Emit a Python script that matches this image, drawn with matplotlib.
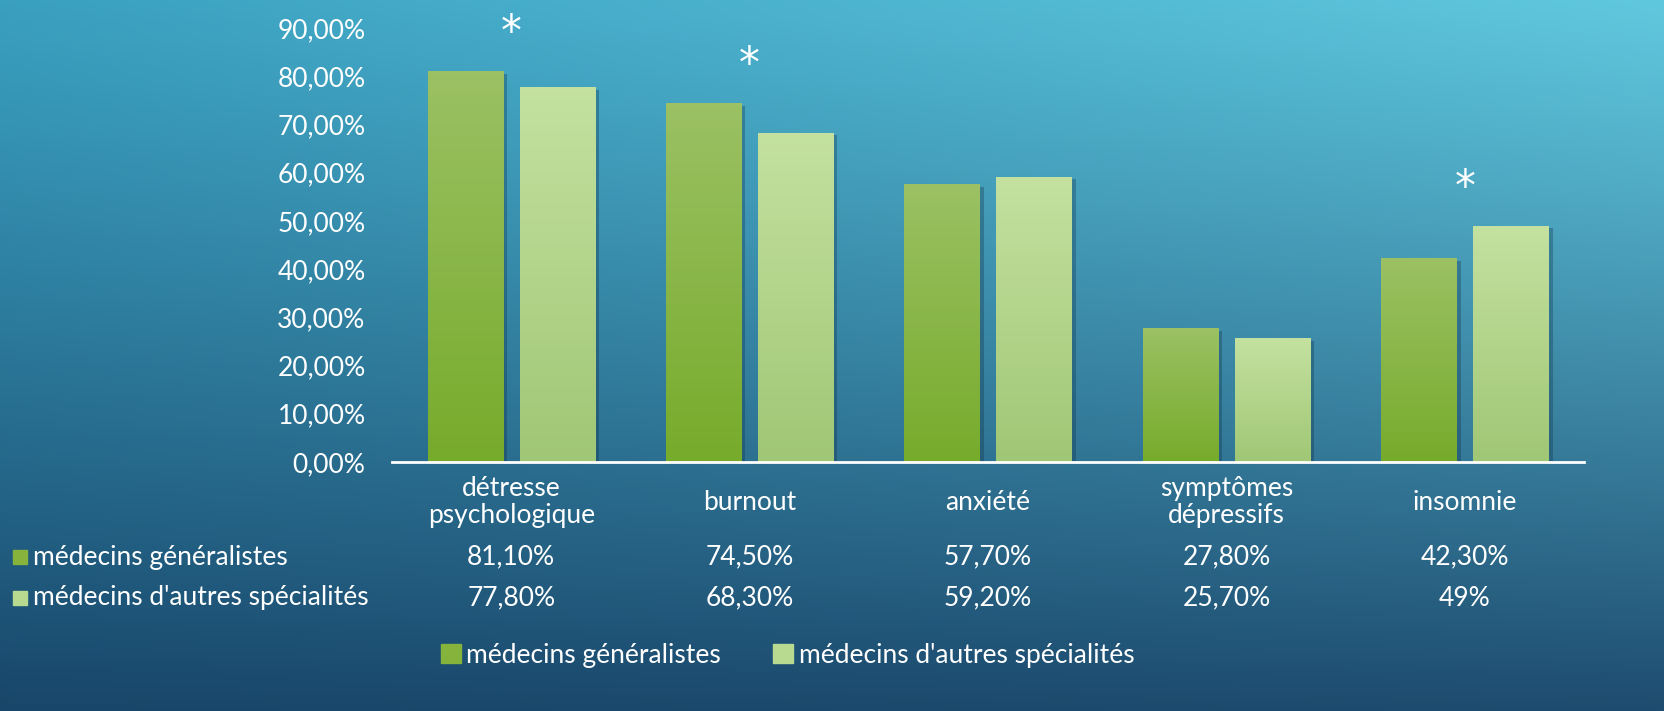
import numpy as np
import matplotlib
matplotlib.use("Agg")
import matplotlib.pyplot as plt
from matplotlib.patches import Patch
from matplotlib import patheffects as pe
from matplotlib.transforms import blended_transform_factory

# Données
categories = ["détresse\npsychologique", "burnout", "anxiété", "symptômes\ndépressifs", "insomnie"]
series = ["médecins généralistes", "médecins d'autres spécialités"]
generalistes = [81.1, 74.5, 57.7, 27.8, 42.3]
autres = [77.8, 68.3, 59.2, 25.7, 49.0]
lab_generalistes = ["81,10%", "74,50%", "57,70%", "27,80%", "42,30%"]
lab_autres = ["77,80%", "68,30%", "59,20%", "25,70%", "49%"]
significatif = [True, True, False, False, True]
yticks = [0, 10, 20, 30, 40, 50, 60, 70, 80, 90]

plt.rcParams['font.family'] = ['Lato', 'DejaVu Sans']
W, H = 1665, 711
fig = plt.figure(figsize=(W / 100, H / 100), dpi=100)

# fond dégradé
bg = fig.add_axes([0, 0, 1, 1], zorder=-10)
bg.axis("off")
yy, xx = np.mgrid[0:1:200j, 0:1:400j]
tl = np.array([58, 160, 192]) / 255
tr = np.array([96, 200, 222]) / 255
bl = np.array([24, 70, 106]) / 255
br = np.array([30, 76, 112]) / 255
t = yy[..., None] ** 1.1
top = tl * (1 - xx[..., None]) + tr * xx[..., None]
bot = bl * (1 - xx[..., None]) + br * xx[..., None]
img = top * (1 - t) + bot * t
bg.imshow(img, extent=[0, 1, 0, 1], aspect="auto", origin="upper")
bg.set_xlim(0, 1)
bg.set_ylim(0, 1)

left, right = 392 / W, 1584 / W
bottom, topf = 1 - 462 / H, 1 - 28 / H
ax = fig.add_axes([left, bottom, right - left, topf - bottom])
ax.patch.set_alpha(0)

x = np.arange(len(categories))
w = 0.315
off = 0.193

col_dark = [(0x9b / 255, 0xc1 / 255, 0x64 / 255), (0x77 / 255, 0xab / 255, 0x2b / 255)]
col_light = [(0xc4 / 255, 0xe1 / 255, 0xa0 / 255), (0xa0 / 255, 0xc7 / 255, 0x75 / 255)]

def barres(xs, vals, cols):
    bars = ax.bar(xs, vals, w, color=cols[1], zorder=2)
    for b in bars:
        b.set_path_effects([pe.SimplePatchShadow(offset=(3, -2), shadow_rgbFace="#0d2a40", alpha=0.3), pe.Normal()])
        grad = np.linspace(0, 1, 100)[:, None, None]
        c = np.array(cols[0]) * (1 - grad) + np.array(cols[1]) * grad
        im = ax.imshow(c, extent=[b.get_x(), b.get_x() + b.get_width(), 0, b.get_height()],
                       aspect="auto", origin="upper", zorder=3)
        im.set_clip_path(b)
    return bars

barres(x - off, generalistes, col_dark)
barres(x + off, autres, col_light)

ax.set_xlim(-0.5, 4.5)
ax.set_ylim(0, 90)
ax.set_yticks(yticks)
ax.set_yticklabels([f"{v},00%" for v in yticks], color="white", fontsize=19)
ax.tick_params(axis="y", length=0, pad=19)
ax.set_xticks([])
for s in ["top", "right", "left"]:
    ax.spines[s].set_visible(False)
ax.spines["bottom"].set_color("white")
ax.spines["bottom"].set_linewidth(2)
ax.spines["bottom"].set_zorder(5)

# astérisques
for i, sig in enumerate(significatif):
    if sig:
        m = max(generalistes[i], autres[i])
        ax.annotate("*", (x[i], m), xytext=(0, 12), textcoords="offset points",
                    ha="center", va="bottom", color="white", fontsize=30,
                    family="DejaVu Sans", annotation_clip=False)

# tableau de données
tr_ = blended_transform_factory(ax.transData, fig.transFigure)
for i, cat in enumerate(categories):
    ax.text(x[i], 1 - 502 / H, cat, transform=tr_, ha="center", va="center",
            color="white", fontsize=19, linespacing=1.1)
    ax.text(x[i], 1 - 557 / H, lab_generalistes[i], transform=tr_, ha="center", va="center",
            color="white", fontsize=19)
    ax.text(x[i], 1 - 598 / H, lab_autres[i], transform=tr_, ha="center", va="center",
            color="white", fontsize=19)

for yy_, nom, c in [(557, series[0], "#86b33c"), (598, series[1], "#b8da90")]:
    fig.patches.append(plt.Rectangle((13 / W, 1 - (yy_ + 7) / H), 14 / W, 14 / H,
                                     transform=fig.transFigure, color=c, figure=fig))
    fig.text(33 / W, 1 - yy_ / H, nom, ha="left", va="center", color="white", fontsize=19)

handles = [Patch(color="#86b33c"), Patch(color="#b8da90")]
fig.legend(handles, series, loc="center", bbox_to_anchor=(0.473, 1 - 655 / H), ncol=2,
           frameon=False, fontsize=19, labelcolor="white", handlelength=0.75,
           handleheight=0.75, handletextpad=0.2, columnspacing=2.0)

fig.savefig("out.png", dpi=100)
